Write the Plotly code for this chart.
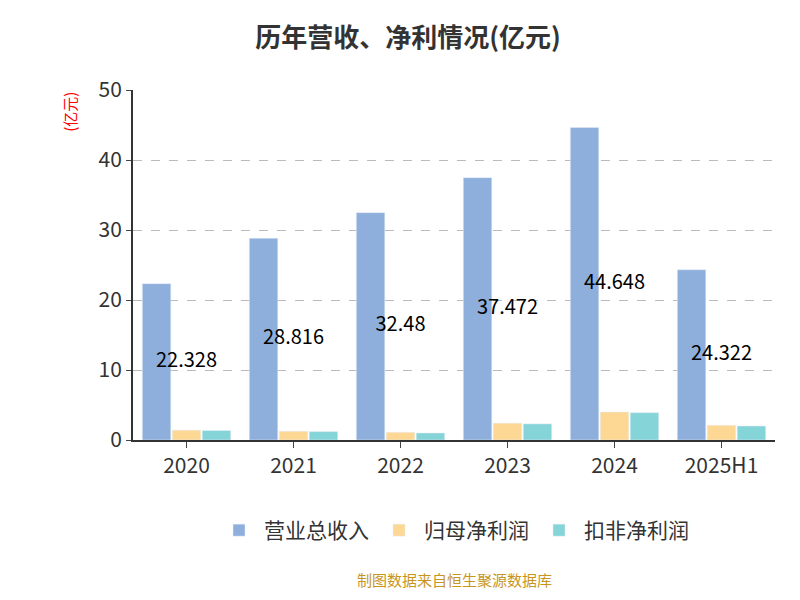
import plotly.graph_objects as go

years = ["2020", "2021", "2022", "2023", "2024", "2025H1"]
revenue = [22.328, 28.816, 32.48, 37.472, 44.648, 24.322]
net_profit = [1.4, 1.25, 1.1, 2.4, 4.0, 2.1]
deducted_profit = [1.35, 1.2, 1.0, 2.3, 3.9, 2.0]

fig = go.Figure()
fig.add_bar(x=years, y=revenue, name="营业总收入", marker_color="#8eaedb")
fig.add_bar(x=years, y=net_profit, name="归母净利润", marker_color="#fdd794")
fig.add_bar(x=years, y=deducted_profit, name="扣非净利润", marker_color="#85d4d8")
# revenue labels sit at the group centre, half way up the bar
fig.add_scatter(x=years, y=[v / 2 for v in revenue], mode="text",
                text=[f"{v:g}" for v in revenue], textfont=dict(size=20, color="black"),
                showlegend=False, hoverinfo="skip")

fig.update_layout(
    width=800, height=600,
    font=dict(family="Noto Sans CJK SC", color="#333"),
    title=dict(text="<b>历年营收、净利情况(亿元)</b>", x=0.5, y=0.965, font=dict(size=26)),
    plot_bgcolor="white", paper_bgcolor="white",
    barmode="group", bargap=0.16, bargroupgap=0.05,
    margin=dict(l=125, r=33, t=82, b=168),
    legend=dict(orientation="h", x=0.5, xanchor="center", y=-0.2, yanchor="top",
                font=dict(size=21), itemwidth=40),
    annotations=[
        dict(text="(亿元)", textangle=-90, x=-0.1, xref="paper", xanchor="center",
             y=1.0, yref="paper", yanchor="top", font=dict(color="red", size=15),
             showarrow=False),
        dict(text="制图数据来自恒生聚源数据库", x=0.5, xref="paper", y=-0.435, yref="paper",
             font=dict(color="#c8961e", size=15), showarrow=False),
    ],
)
fig.update_xaxes(showline=True, linecolor="#333", linewidth=2, ticks="outside",
                 tickfont=dict(size=21, color="#333"), ticklen=6)
fig.update_yaxes(range=[0, 50], dtick=10, showgrid=True, gridcolor="#bbb", griddash="dash",
                 showline=True, linecolor="#333", linewidth=2, ticks="outside",
                 tickfont=dict(size=21, color="#333"), zeroline=False)
fig.write_html("out.html")
